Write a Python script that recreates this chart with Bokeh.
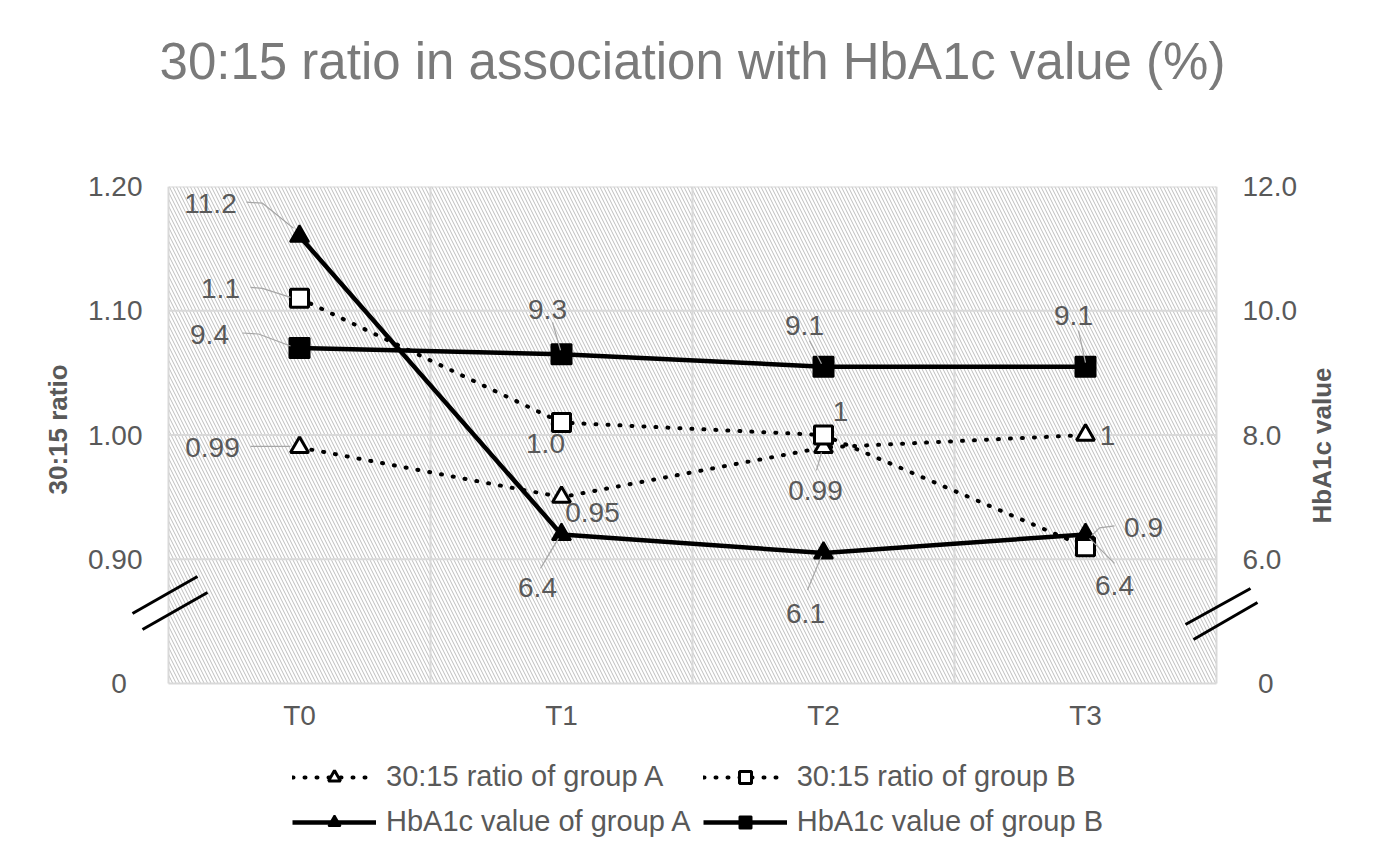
import math
from bokeh.plotting import figure
from bokeh.models import (Range1d, LinearAxis, FixedTicker, Legend, LegendItem, Arrow)
from bokeh.embed import file_html
from bokeh.resources import INLINE
from bokeh.core.properties import value

# ---------------- data ----------------
categories = ["T0", "T1", "T2", "T3"]
ratio_a = [0.99, 0.95, 0.99, 1.00]
ratio_b = [1.11, 1.01, 1.00, 0.91]
hba1c_a = [11.2, 6.4, 6.1, 6.4]
hba1c_b = [9.4, 9.3, 9.1, 9.1]
ratio_a_labels = ["0.99", "0.95", "0.99", "1"]
ratio_b_labels = ["1.1", "1.0", "1", "0.9"]
hba1c_a_labels = ["11.2", "6.4", "6.1", "6.4"]
hba1c_b_labels = ["9.4", "9.3", "9.1", "9.1"]
left_ticks = [0.8, 0.9, 1.0, 1.1, 1.2]
left_tick_labels = ["0\u2007", "0.90", "1.00", "1.10", "1.20"]
right_ticks = [4, 6, 8, 10, 12]
right_tick_labels = ["\u20070", "6.0", "8.0", "10.0", "12.0"]

# ---------------- layout / style ----------------
W, H = 1380, 867
AREA_L, AREA_R, AREA_T, AREA_B = 168, 1216, 186, 683     # hatched plot area in the page
EXT = 45                                  # frame room left/right for the axis-break marks
BOT = 860                                 # frame reaches down here so the legend can sit inside it
ML, MR, MT, MB = AREA_L - EXT, W - AREA_R - EXT, AREA_T, H - BOT
AREA_W = AREA_R - AREA_L
AREA_H = AREA_B - AREA_T
X0, X1 = -0.5, 3.5
L0, L1 = 0.8, 1.2
R0, R1 = 4.0, 12.0
FONT = "Liberation Sans"
GRAY = "#595959"
GRID = "#d9d9d9"

xs = list(range(len(categories)))

def px_x(dx):
    return dx * (X1 - X0) / AREA_W

def px_l(dy):
    return -dy * (L1 - L0) / AREA_H

def px_r(dy):
    return -dy * (R1 - R0) / AREA_H

DROP = BOT - AREA_B
p = figure(width=W, height=H, output_backend="svg", toolbar_location=None,
           x_range=Range1d(X0 - px_x(EXT), X1 + px_x(EXT)),
           y_range=Range1d(L0 + px_l(DROP), L1),
           min_border_left=ML, min_border_right=MR, min_border_top=MT, min_border_bottom=MB)
p.extra_y_ranges = {"hb": Range1d(R0 + px_r(DROP), R1)}
p.background_fill_color = "white"
p.border_fill_color = "white"
p.outline_line_color = None
p.xgrid.visible = False
p.ygrid.visible = False

# hatched plot area
p.quad(left=[X0], right=[X1], bottom=[L0], top=[L1], fill_color="white", line_color=None,
       hatch_pattern="\\", hatch_color="#bdbdbd", hatch_scale=7, hatch_weight=1, level="image")

# grid lines limited to the plot area
vgrid = [X0 + i for i in range(len(categories) + 1)]
p.segment(x0=vgrid, x1=vgrid, y0=[L0] * len(vgrid), y1=[L1] * len(vgrid), line_color=GRID, line_width=2)
p.segment(x0=[X0] * len(left_ticks), x1=[X1] * len(left_ticks), y0=left_ticks, y1=left_ticks,
          line_color=GRID, line_width=2)

# axes
xa = p.xaxis[0]
xa.ticker = FixedTicker(ticks=xs)
xa.major_label_overrides = {i: c for i, c in enumerate(categories)}
ya = p.yaxis[0]
ya.ticker = FixedTicker(ticks=left_ticks)
ya.major_label_overrides = {t: s for t, s in zip(left_ticks, left_tick_labels)}
ya.axis_label = "\u2007" * 13 + "30:15 ratio"
ra = LinearAxis(y_range_name="hb", ticker=FixedTicker(ticks=right_ticks),
                major_label_overrides={t: s for t, s in zip(right_ticks, right_tick_labels)},
                axis_label="HbA1c value")
p.add_layout(ra, "right")
for ax in (xa, ya, ra):
    ax.axis_line_color = None
    ax.major_tick_line_color = None
    ax.minor_tick_line_color = None
    ax.major_tick_out = 0
    ax.major_tick_in = 0
    ax.major_label_text_font = FONT
    ax.major_label_text_font_size = "28px"
    ax.major_label_text_color = GRAY
    ax.axis_label_text_font = FONT
    ax.axis_label_text_font_size = "26px"
    ax.axis_label_text_font_style = "bold"
    ax.axis_label_text_color = GRAY
xa.major_label_standoff = 16 - DROP
ya.major_label_standoff = 26 - EXT
ra.major_label_standoff = 26 - EXT
ya.axis_label_standoff = 12
ra.axis_label_standoff = 22
try:
    ra.axis_label_orientation = math.pi / 2
except Exception:
    ra.axis_label_standoff = 11

# title (second, blank line keeps it high above the plot area)
p.title.text = "30:15 ratio in association with HbA1c value (%)\n\u2007"
p.title.align = "center"
p.title.text_font = FONT
p.title.text_font_size = "51px"
p.title.text_font_style = "normal"
p.title.text_color = "#7a7a7a"
p.title.text_line_height = 1.6
p.title.standoff = 10

# series
DOT = dict(line_color="black", line_width=4, line_dash="1 11", line_cap="round")
ra_line = p.line(xs, ratio_a, **DOT)
rb_line = p.line(xs, ratio_b, **DOT)
ha_line = p.line(xs, hba1c_a, y_range_name="hb", line_color="black", line_width=4.5)
hb_line = p.line(xs, hba1c_b, y_range_name="hb", line_color="black", line_width=4.5)
ra_pts = p.scatter(xs, ratio_a, marker="triangle", size=18, fill_color="white", line_color="black", line_width=3)
rb_pts = p.scatter(xs, ratio_b, marker="square", size=18, fill_color="white", line_color="black", line_width=3)
ha_pts = p.scatter(xs, hba1c_a, y_range_name="hb", marker="triangle", size=19, fill_color="black", line_color="black", line_width=2)
hb_pts = p.scatter(xs, hba1c_b, y_range_name="hb", marker="square", size=20, fill_color="black", line_color="black", line_width=2)

# data labels: pixel offsets (screen, y down) of label centres, and leader polylines
lab_off = {
    "ra": [(-87, 0), (31, 15), (-8, 43), (22, 0)],
    "rb": [(-79, -10), (-16, 21), (17, -24), (58, -19)],
    "ha": [(-89, -33), (-24, 53), (-18, 60), (29, 51)],
    "hb": [(-90, -14), (-14, -45), (-19, -41), (-12, -51)],
}
leaders = {
    "ra": [[(-49, -1), (-9, -1)], None, [(-7, 23), (-2, 5)], None],
    "rb": [[(-49, -11), (-37, -10), (-9, -1)], None, None, [(29, -21), (14, -19), (6, -11)]],
    "ha": [[(-53, -34), (-37, -33), (-6, -8)], [(-21, 34), (-3, 4)], [(-16, 37), (-2, 3)], [(29, 29), (4, 4)]],
    "hb": [[(-57, -15), (-41, -14), (-9, -2)], [(-9, -32), (-1, -4)], [(-14, -26), (-2, -3)], [(-7, -36), (0, -4)]],
}
series = {
    "ra": (ratio_a, ratio_a_labels, "default", px_l),
    "rb": (ratio_b, ratio_b_labels, "default", px_l),
    "ha": (hba1c_a, hba1c_a_labels, "hb", px_r),
    "hb": (hba1c_b, hba1c_b_labels, "hb", px_r),
}
for key, (vals, labs, rname, conv) in series.items():
    lx, ly = [], []
    for i, (xv, yv) in enumerate(zip(xs, vals)):
        pts = leaders[key][i]
        if pts:
            lx.append([xv + px_x(a) for a, b in pts])
            ly.append([yv + conv(b) for a, b in pts])
    if lx:
        p.multi_line(lx, ly, y_range_name=rname, line_color="#a6a6a6", line_width=1.2)
    p.text(xs, vals, text=labs, y_range_name=rname,
           x_offset=[o[0] for o in lab_off[key]], y_offset=[o[1] for o in lab_off[key]],
           text_align="center", text_baseline="middle", text_font=value(FONT),
           text_font_size="28px", text_color=GRAY)

# axis break marks (pixel offsets from the plot area's bottom corners)
brk_left = [((-36, -70), (29, -107)), ((-26, -54), (39, -91))]
brk_right = [((-31, -59), (34, -95)), ((-23, -44), (41, -81))]
for (a, b) in brk_left:
    p.add_layout(Arrow(end=None, x_start=X0 + px_x(a[0]), y_start=L0 + px_l(a[1]),
                       x_end=X0 + px_x(b[0]), y_end=L0 + px_l(b[1]), line_width=3, line_color="black"))
for (a, b) in brk_right:
    p.add_layout(Arrow(end=None, x_start=X1 + px_x(a[0]), y_start=L0 + px_l(a[1]),
                       x_end=X1 + px_x(b[0]), y_end=L0 + px_l(b[1]), line_width=3, line_color="black"))

# legend (inside the lower part of the frame, 2 x 2 grid)
legend = Legend(items=[
    LegendItem(label="30:15 ratio of group A", renderers=[ra_line, ra_pts]),
    LegendItem(label="30:15 ratio of group B", renderers=[rb_line, rb_pts]),
    LegendItem(label="HbA1c value of group A", renderers=[ha_line, ha_pts]),
    LegendItem(label="HbA1c value of group B", renderers=[hb_line, hb_pts]),
], orientation="horizontal", ncols=2, location=(169, 22),
    label_text_font=FONT, label_text_font_size="29px", label_text_color=GRAY,
    glyph_width=84, glyph_height=30, label_height=30, label_standoff=10, spacing=12,
    padding=5, margin=0, border_line_color=None, background_fill_alpha=0)
p.add_layout(legend, "center")

open("out.html", "w").write(file_html(p, INLINE))
